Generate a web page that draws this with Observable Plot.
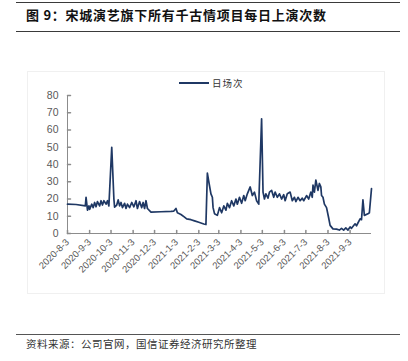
<!DOCTYPE html>
<html>
<head>
<meta charset="utf-8">
<script src="https://cdn.jsdelivr.net/npm/d3@7"></script>
<script src="https://cdn.jsdelivr.net/npm/@observablehq/plot@0.6"></script>
<style>
  html, body { margin: 0; padding: 0; background: #fff; }
  body { width: 408px; height: 361px; position: relative; overflow: hidden; font-family: "Liberation Sans", Arial, sans-serif; }
  .rule { position: absolute; left: 16px; width: 384px; background: #3a3a3a; }
  #title { position: absolute; left: 26px; top: 6px; font-family: "Noto Sans CJK SC", sans-serif; font-weight: bold; font-size: 13px; letter-spacing: 0.75px; color: #111; white-space: nowrap; line-height: 18px; }
  #caption { position: absolute; left: 26px; top: 336px; font-family: "Noto Sans CJK SC", sans-serif; font-size: 10.5px; letter-spacing: 0.5px; color: #333; white-space: nowrap; line-height: 15px; }
  #frame { position: absolute; left: 27px; top: 71px; width: 356px; height: 221px; border: 1px solid #f0f0f0; }
  #legend { position: absolute; left: 179px; top: 76px; display: flex; align-items: center; font-family: "Noto Sans CJK SC", sans-serif; font-size: 9.5px; letter-spacing: 1px; color: #333; line-height: 14px; }
  #legend .sw { width: 30px; height: 2px; background: #1f3864; margin-right: 3px; }
  #chart { position: absolute; left: 0; top: 60px; }
</style>
</head>
<body>
<div class="rule" style="top:2px;height:1px;"></div>
<div id="title">图 9：宋城演艺旗下所有千古情项目每日上演次数</div>
<div class="rule" style="top:31px;height:1px;"></div>
<div id="frame"></div>
<div id="legend"><div class="sw"></div><span>日场次</span></div>
<div id="chart"></div>
<div class="rule" style="top:334px;height:1.3px;background:#555;"></div>
<div id="caption">资料来源：公司官网，国信证券经济研究所整理</div>
<script>
const seriesName = "日场次";
const dates = [
  "2020-08-03","2020-08-15","2020-08-28","2020-08-29","2020-08-31","2020-09-02","2020-09-03","2020-09-06","2020-09-08","2020-09-10",
  "2020-09-12","2020-09-14","2020-09-17","2020-09-19","2020-09-21","2020-09-23","2020-09-26","2020-09-28","2020-09-30","2020-10-04",
  "2020-10-07","2020-10-08","2020-10-11","2020-10-13","2020-10-15","2020-10-17","2020-10-19","2020-10-22","2020-10-24","2020-10-26",
  "2020-10-29","2020-11-01","2020-11-04","2020-11-07","2020-11-09","2020-11-12","2020-11-15","2020-11-17","2020-11-19","2020-11-21",
  "2020-11-23","2020-11-28","2020-12-12","2020-12-26","2020-12-30","2021-01-02","2021-01-04","2021-01-09","2021-01-14","2021-01-17",
  "2021-01-23","2021-01-28","2021-02-03","2021-02-10","2021-02-13","2021-02-15","2021-02-17","2021-02-20","2021-02-22","2021-02-23",
  "2021-02-25","2021-03-01","2021-03-04","2021-03-07","2021-03-10","2021-03-13","2021-03-15","2021-03-18","2021-03-21","2021-03-24",
  "2021-03-27","2021-03-29","2021-04-01","2021-04-04","2021-04-07","2021-04-09","2021-04-12","2021-04-16","2021-04-19","2021-04-22",
  "2021-04-25","2021-04-28","2021-05-02","2021-05-04","2021-05-06","2021-05-08","2021-05-11","2021-05-13","2021-05-16","2021-05-19",
  "2021-05-21","2021-05-24","2021-05-27","2021-05-30","2021-06-02","2021-06-04","2021-06-07","2021-06-11","2021-06-14","2021-06-17",
  "2021-06-19","2021-06-22","2021-06-25","2021-06-28","2021-06-30","2021-07-04","2021-07-07","2021-07-10","2021-07-12","2021-07-13",
  "2021-07-15","2021-07-17","2021-07-20","2021-07-22","2021-07-24","2021-07-25","2021-07-27","2021-07-29","2021-08-01","2021-08-04",
  "2021-08-06","2021-08-10","2021-08-15","2021-08-19","2021-08-22","2021-08-25","2021-08-28","2021-08-31","2021-09-03","2021-09-05",
  "2021-09-10","2021-09-12","2021-09-17","2021-09-19","2021-09-21","2021-09-23","2021-09-28","2021-09-30","2021-10-03"
];
const values = [
  17, 16.8, 16, 21, 13.5, 16, 14, 17, 15, 18,
  15.5, 18.5, 16, 19, 16.5, 19, 17, 19, 16, 50,
  20, 15.3, 16.5, 19.5, 16, 18, 15, 17.5, 14.5, 17,
  15, 18, 15.5, 19, 14.5, 18.5, 15, 18, 14.5, 19,
  14.5, 12.4, 12.6, 12.8, 13, 14.5, 12, 11, 9.5, 8.5,
  8, 7.3, 6.5, 5.5, 5.2, 35, 30, 23, 21, 15,
  11.5, 10.5, 15, 12, 16, 13.5, 17.5, 15, 19, 16,
  20, 17, 21, 17.5, 22, 19, 23, 27, 22, 24,
  19, 17, 66.5, 24, 20, 23, 20.5, 24, 25, 21,
  24, 21, 23, 20, 22.5, 19, 23, 24, 19, 21,
  18.5, 21, 19, 20.5, 19, 22, 20, 24, 21, 28,
  24, 31, 25, 29, 27, 22, 21, 17, 15, 9,
  4.7, 2.7, 2.5, 2, 3, 2, 3.2, 2, 3.8, 3,
  5.6, 4.5, 8.5, 8, 19.5, 10.5, 11.4, 12, 26
];
const xTickLabels = ["2020-8-3","2020-9-3","2020-10-3","2020-11-3","2020-12-3","2021-1-3","2021-2-3","2021-3-3","2021-4-3","2021-5-3","2021-6-3","2021-7-3","2021-8-3","2021-9-3"];
const yTicks = [0, 10, 20, 30, 40, 50, 60, 70, 80];
const xDomainLabels = ["2020-8-3", "2021-10-3"];

const toDate = s => { const [y, m, d] = s.split("-").map(Number); return new Date(Date.UTC(y, m - 1, d)); };
const data = dates.map((d, i) => ({ date: toDate(d), value: values[i] }));
const xTicks = xTickLabels.map(toDate);
const xDomain = xDomainLabels.map(toDate);
const fmt = d => `${d.getUTCFullYear()}-${d.getUTCMonth() + 1}-${d.getUTCDate()}`;
const tickShape = { draw(ctx, l) { ctx.moveTo(0, 0); ctx.lineTo(0, -l); } };
const axisColor = "#8c8c8c";

const chart = Plot.plot({
  width: 408,
  height: 240,
  marginLeft: 67,
  marginRight: 37,
  marginTop: 35,
  marginBottom: 67,
  style: { fontFamily: "'Liberation Sans', Arial, sans-serif", color: "#595959", background: "transparent", overflow: "visible" },
  x: { type: "utc", domain: xDomain },
  y: { domain: [0, 80] },
  marks: [
    Plot.axisY(yTicks, { tickSize: 0, tickPadding: 9, fontSize: 10.5, label: null, fill: "#595959" }),
    Plot.axisX(xTicks, { tickSize: 0, tickPadding: 7, tickRotate: -45, fontSize: 9.5, label: null, tickFormat: fmt, fill: "#595959" }),
    Plot.ruleX([xDomain[0]], { stroke: axisColor }),
    Plot.ruleY([0], { stroke: axisColor }),
    Plot.vector(yTicks, { x: xDomain[0], y: d => d, length: 3, rotate: 90, anchor: "start", shape: tickShape, stroke: axisColor }),
    Plot.vector(xTicks, { x: d => d, y: 0, length: 3, rotate: 0, anchor: "start", shape: tickShape, stroke: axisColor }),
    Plot.line(data, { x: "date", y: "value", stroke: "#1f3864", strokeWidth: 1.7, strokeLinejoin: "round" })
  ]
});
document.getElementById("chart").appendChild(chart);
</script>
</body>
</html>
